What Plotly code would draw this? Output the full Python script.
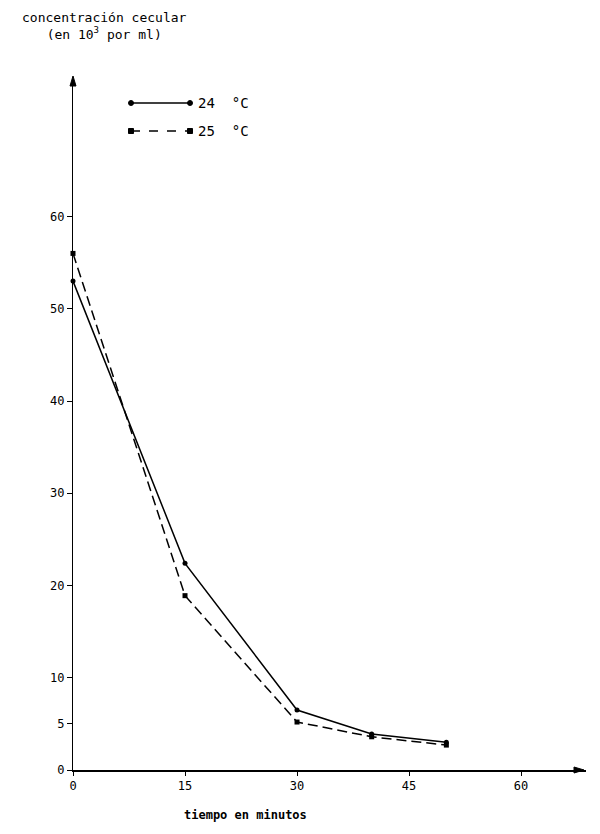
import plotly.graph_objects as go

minutes_24 = [0, 15, 30, 40, 50]
conc_24 = [53.0, 22.4, 6.5, 3.9, 3.0]
minutes_25 = [0, 15, 30, 40, 50]
conc_25 = [56.0, 18.9, 5.2, 3.6, 2.7]
series_names = ["24 °C", "25 °C"]
x_ticks = [0, 15, 30, 45, 60]
y_ticks = [0, 5, 10, 20, 30, 40, 50, 60]

FONT = "DejaVu Sans Mono"
OFF = 8  # page body margin
W, H = 592, 826
L, R, T, B = 73 - OFF, 14, 80 - OFF, 834 - 770
pw, ph = W - L - R, H - T - B

def px(x):
    return (x - OFF - L) / pw

def py(y):
    return (H - B - (y - OFF)) / ph

fig = go.Figure()
fig.add_trace(go.Scatter(x=minutes_24, y=conc_24, mode="lines+markers", name=series_names[0],
                         line=dict(color="black", width=1.5),
                         marker=dict(symbol="circle", size=5, color="black"),
                         cliponaxis=False, showlegend=False))
fig.add_trace(go.Scatter(x=minutes_25, y=conc_25, mode="lines+markers", name=series_names[1],
                         line=dict(color="black", width=1.5, dash="10px,5px"),
                         marker=dict(symbol="square", size=5, color="black"),
                         cliponaxis=False, showlegend=False))

shapes = []
annotations = []
# legend drawn manually
for i, (yy, dash, sym) in enumerate([(103, "solid", "circle"), (131, "dash", "rect")]):
    shapes.append(dict(type="line", xref="paper", yref="paper", x0=px(131), x1=px(190),
                       y0=py(yy), y1=py(yy), line=dict(color="black", width=1.6, dash=dash)))
    for xx in (131, 190):
        r = 2.5
        shapes.append(dict(type="circle" if sym == "circle" else "rect", xref="paper", yref="paper",
                           x0=px(xx - r), x1=px(xx + r), y0=py(yy + r), y1=py(yy - r),
                           fillcolor="black", line=dict(color="black", width=1)))
    annotations.append(dict(xref="paper", yref="paper", x=px(196), y=py(yy), xanchor="left",
                            yanchor="middle", text=series_names[i].replace(" ", "  "), showarrow=False,
                            font=dict(family=FONT, size=14, color="black")))

annotations.append(dict(xref="paper", yref="paper", x=px(104), y=1.0 + T / ph, xanchor="center",
                        yanchor="top", align="center",
                        text="concentración cecular<br>(en 10<sup>3</sup> por ml)", showarrow=False,
                        font=dict(family=FONT, size=13, color="black")))
annotations.append(dict(xref="paper", yref="paper", x=px(245), y=py(815), xanchor="center",
                        yanchor="middle", text="<b>tiempo en minutos</b>", showarrow=False,
                        font=dict(family=FONT, size=12, color="black")))

# arrowheads as filled triangles
ax0, ay0 = 73, 80
shapes.append(dict(type="path", xref="paper", yref="paper",
                   path=f"M {px(ax0)} {py(ay0 - 4)} L {px(ax0 - 3)} {py(ay0 + 6)} L {px(ax0 + 3)} {py(ay0 + 6)} Z",
                   fillcolor="black", line=dict(color="black", width=1)))
bx0, by0 = 580, 770
shapes.append(dict(type="path", xref="paper", yref="paper",
                   path=f"M {px(bx0 + 4)} {py(by0)} L {px(bx0 - 6)} {py(by0 - 3)} L {px(bx0 - 6)} {py(by0 + 3)} Z",
                   fillcolor="black", line=dict(color="black", width=1)))

fig.update_layout(
    width=W, height=H, margin=dict(l=L, r=R, t=T, b=B),
    paper_bgcolor="white", plot_bgcolor="white",
    shapes=shapes, annotations=annotations, showlegend=False,
    font=dict(family=FONT, size=12, color="black"),
    xaxis=dict(range=[0, 68.7], tickvals=x_ticks, showgrid=False, zeroline=False,
               showline=True, linecolor="black", linewidth=2, ticks="outside",
               ticklen=4, tickcolor="black", tickfont=dict(family=FONT, size=12)),
    yaxis=dict(range=[0, 74.8], tickvals=y_ticks, showgrid=False, zeroline=False,
               showline=True, linecolor="black", linewidth=1.4, ticks="outside",
               ticklen=5, tickcolor="black", tickfont=dict(family=FONT, size=12)),
)

fig.write_html("out.html")
